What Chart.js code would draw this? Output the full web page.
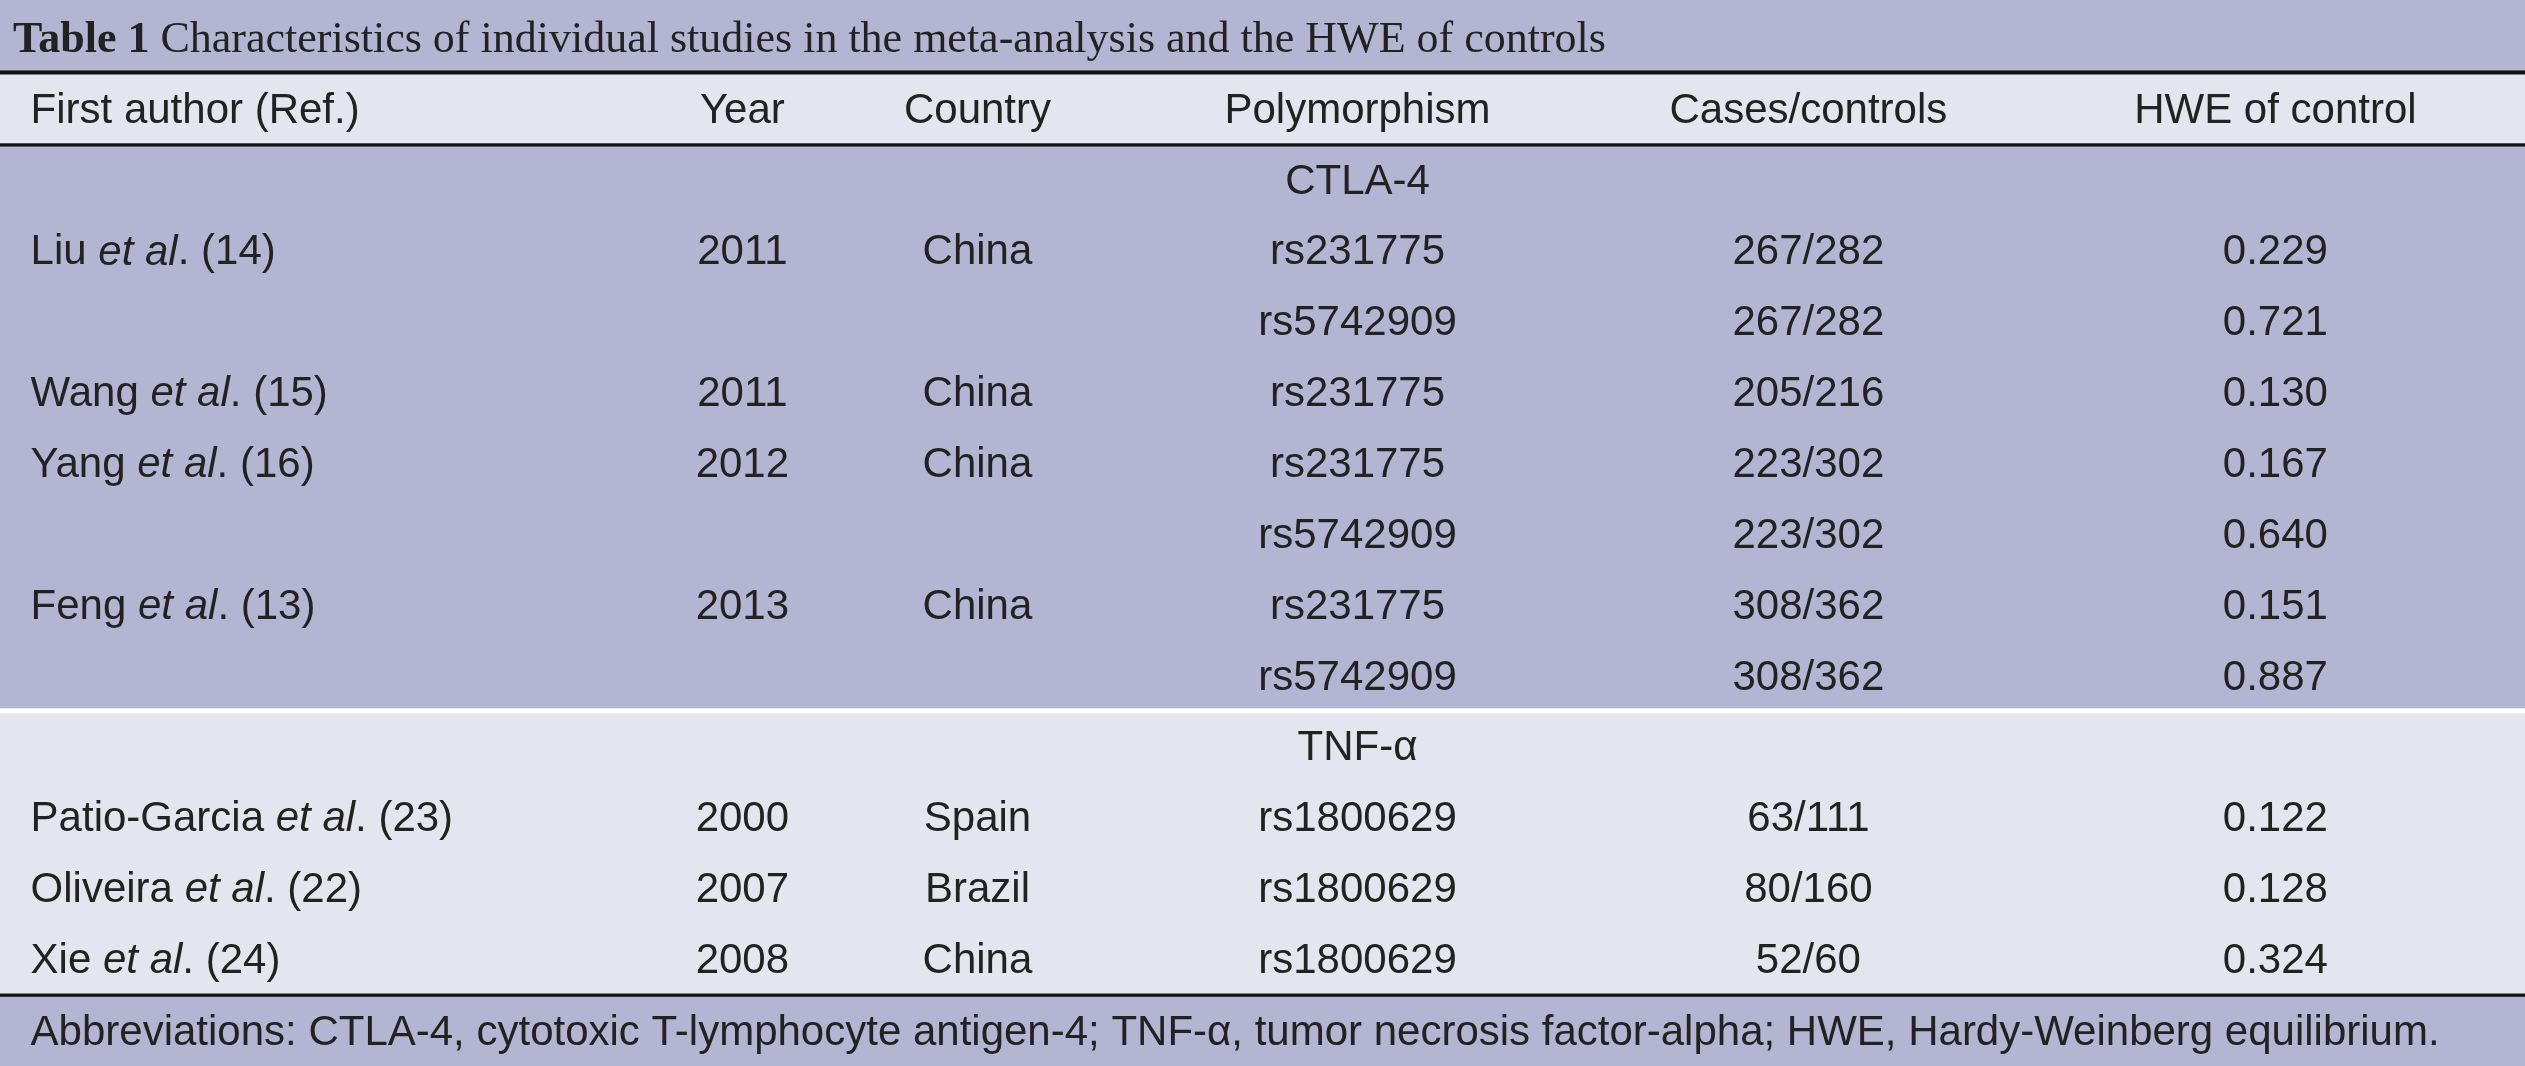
<!DOCTYPE html>
<html>
<head>
<meta charset="utf-8">
<script src="https://cdn.jsdelivr.net/npm/chart.js@4.4.0/dist/chart.umd.min.js"></script>
<style>
  html, body { margin: 0; padding: 0; background: #fff; }
  #wrap { width: 2525px; height: 1066px; }
</style>
</head>
<body>
<div id="wrap"><canvas id="table"></canvas></div>
<script>
// ======== Table data ========
const titleBold = 'Table 1';
const titleText = ' Characteristics of individual studies in the meta-analysis and the HWE of controls';
const headers = ['First author (Ref.)', 'Year', 'Country', 'Polymorphism', 'Cases/controls', 'HWE of control'];
const groups = ['CTLA-4', 'TNF-\u03b1'];

// author text: parts between | are italic
const ctlaAuthors = ['Liu |et al|. (14)', '', 'Wang |et al|. (15)', 'Yang |et al|. (16)', '', 'Feng |et al|. (13)', ''];
const ctlaYears = ['2011', '', '2011', '2012', '', '2013', ''];
const ctlaCountries = ['China', '', 'China', 'China', '', 'China', ''];
const ctlaSnps = ['rs231775', 'rs5742909', 'rs231775', 'rs231775', 'rs5742909', 'rs231775', 'rs5742909'];
const ctlaCases = ['267/282', '267/282', '205/216', '223/302', '223/302', '308/362', '308/362'];
const ctlaHwe = ['0.229', '0.721', '0.130', '0.167', '0.640', '0.151', '0.887'];

const tnfAuthors = ['Patio-Garcia |et al|. (23)', 'Oliveira |et al|. (22)', 'Xie |et al|. (24)'];
const tnfYears = ['2000', '2007', '2008'];
const tnfCountries = ['Spain', 'Brazil', 'China'];
const tnfSnps = ['rs1800629', 'rs1800629', 'rs1800629'];
const tnfCases = ['63/111', '80/160', '52/60'];
const tnfHwe = ['0.122', '0.128', '0.324'];

const footnote = 'Abbreviations: CTLA-4, cytotoxic T-lymphocyte antigen-4; TNF-\u03b1, tumor necrosis factor-alpha; HWE, Hardy-Weinberg equilibrium.';

// ======== Layout in table units (1568 x 662) ========
const colX = [19, 461, 607, 843, 1123, 1413];
const DARK = '#b4b5d3';
const LIGHT = '#e5e5ef';
const SANS = 'Liberation Sans, Arial, sans-serif';
const SERIF = 'Liberation Serif, Times New Roman, serif';

function drawAuthor(ctx, text, x, y, size) {
  const parts = text.split('|');
  let cx = x;
  ctx.textAlign = 'left';
  parts.forEach((p, i) => {
    ctx.font = (i % 2 ? 'italic ' : '') + size + 'px ' + SANS;
    ctx.fillText(p, cx, y);
    cx += ctx.measureText(p).width;
  });
}

const tablePlugin = {
  id: 'tablePlugin',
  beforeDraw(chart) {
    const ctx = chart.ctx;
    const xs = chart.scales.x, ys = chart.scales.y;
    const X = v => xs.getPixelForValue(v);
    const Y = v => ys.getPixelForValue(v);
    const k = (X(1568) - X(0)) / 1568;
    const fs = Math.round(26 * k);

    function band(y0, y1, color) {
      ctx.fillStyle = color;
      ctx.fillRect(X(0), Y(y0), X(1568) - X(0), Y(y1) - Y(y0));
    }
    function hline(y, w, color) {
      ctx.fillStyle = color;
      ctx.fillRect(X(0), Y(y) - w * k / 2, X(1568) - X(0), w * k);
    }
    band(0, 45, DARK);
    band(45, 90, LIGHT);
    band(90, 440, DARK);
    band(440, 443, '#ffffff');
    band(443, 618, LIGHT);
    band(618, 662, DARK);
    hline(45, 2.5, '#111');
    hline(90, 2, '#111');
    hline(618, 2, '#111');

    ctx.fillStyle = '#222';
    ctx.textBaseline = 'middle';

    // title
    ctx.textAlign = 'left';
    ctx.font = 'bold ' + Math.round(27.5 * k) + 'px ' + SERIF;
    ctx.fillText(titleBold, X(8), Y(25));
    const tw = ctx.measureText(titleBold).width;
    ctx.font = Math.round(27.5 * k) + 'px ' + SERIF;
    ctx.fillText(titleText, X(8) + tw, Y(25));

    // headers
    ctx.font = fs + 'px ' + SANS;
    headers.forEach((h, i) => {
      ctx.textAlign = i === 0 ? 'left' : 'center';
      ctx.fillText(h, X(colX[i]), Y(69));
    });

    function rows(startY, authors, years, countries, snps, cases, hwe) {
      authors.forEach((a, r) => {
        const y = Y(startY + r * 44);
        if (a) drawAuthor(ctx, a, X(colX[0]), y, fs);
        ctx.font = fs + 'px ' + SANS;
        ctx.textAlign = 'center';
        [years[r], countries[r], snps[r], cases[r], hwe[r]].forEach((t, c) => {
          if (t) ctx.fillText(t, X(colX[c + 1]), y);
        });
      });
    }

    ctx.font = fs + 'px ' + SANS;
    ctx.textAlign = 'center';
    ctx.fillText(groups[0], X(843), Y(113));
    rows(157, ctlaAuthors, ctlaYears, ctlaCountries, ctlaSnps, ctlaCases, ctlaHwe);

    ctx.font = fs + 'px ' + SANS;
    ctx.textAlign = 'center';
    ctx.fillText(groups[1], X(843), Y(465));
    rows(509, tnfAuthors, tnfYears, tnfCountries, tnfSnps, tnfCases, tnfHwe);

    ctx.font = fs + 'px ' + SANS;
    ctx.textAlign = 'left';
    ctx.fillText(footnote, X(19), Y(642));
  }
};

new Chart(document.getElementById('table'), {
  type: 'scatter',
  data: { datasets: [{ data: [] }] },
  options: {
    responsive: true,
    maintainAspectRatio: false,
    animation: false,
    layout: { padding: 0 },
    plugins: { legend: { display: false }, tooltip: { enabled: false } },
    scales: {
      x: { type: 'linear', min: 0, max: 1568, display: false },
      y: { type: 'linear', min: 0, max: 662, reverse: true, display: false }
    }
  },
  plugins: [tablePlugin]
});
</script>
</body>
</html>
